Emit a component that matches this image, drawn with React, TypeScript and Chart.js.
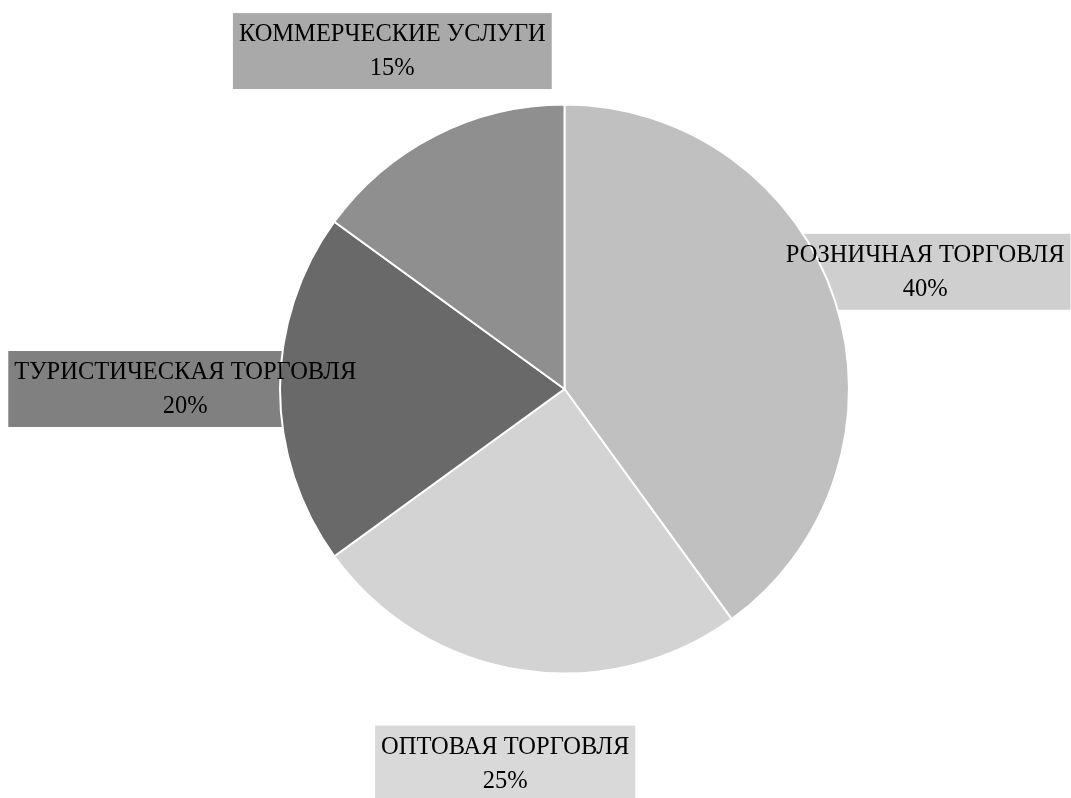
import React, { useEffect, useRef } from "react";
import { Chart, registerables } from "chart.js";

Chart.register(...registerables);

const categories = ["РОЗНИЧНАЯ ТОРГОВЛЯ", "ОПТОВАЯ ТОРГОВЛЯ", "ТУРИСТИЧЕСКАЯ ТОРГОВЛЯ", "КОММЕРЧЕСКИЕ УСЛУГИ"];
const values = [40, 25, 20, 15];
const sliceColors = ["#c0c0c0", "#d3d3d3", "#696969", "#8f8f8f"];
const labelBoxColors = ["#cfcfcf", "#d9d9d9", "#808080", "#a9a9a9"];

const FONT = "24.5px 'Liberation Serif', 'Times New Roman', serif";

function computeBoxes(chart: any) {
  const ctx = chart.ctx as CanvasRenderingContext2D;
  const meta = chart.getDatasetMeta(0);
  const total = values.reduce((a, b) => a + b, 0);
  ctx.save();
  ctx.font = FONT;
  const boxes = meta.data.map((arc: any, i: number) => {
    const p = arc.getProps(["x", "y", "startAngle", "endAngle", "outerRadius"], true);
    const mid = (p.startAngle + p.endAngle) / 2;
    const d = p.outerRadius * 1.333;
    const cx = p.x + Math.cos(mid) * d;
    const cy = p.y + Math.sin(mid) * d;
    const l1 = categories[i];
    const l2 = Math.round((values[i] / total) * 100) + "%";
    const w = Math.max(ctx.measureText(l1).width, ctx.measureText(l2).width) + 12;
    return { cx, cy, w, h: 76, l1, l2, i };
  });
  ctx.restore();
  return boxes;
}

const labelPlugin = {
  id: "boxLabels",
  beforeDatasetsDraw(chart: any) {
    const ctx = chart.ctx as CanvasRenderingContext2D;
    ctx.save();
    computeBoxes(chart).forEach((b: any) => {
      ctx.fillStyle = labelBoxColors[b.i];
      ctx.fillRect(b.cx - b.w / 2, b.cy - b.h / 2, b.w, b.h);
    });
    ctx.restore();
  },
  afterDatasetsDraw(chart: any) {
    const ctx = chart.ctx as CanvasRenderingContext2D;
    ctx.save();
    ctx.font = FONT;
    ctx.fillStyle = "#000";
    ctx.textAlign = "center";
    ctx.textBaseline = "alphabetic";
    computeBoxes(chart).forEach((b: any) => {
      const top = b.cy - b.h / 2;
      ctx.fillText(b.l1, b.cx, top + 28);
      ctx.fillText(b.l2, b.cx, top + 62);
    });
    ctx.restore();
  },
};

export default function App() {
  const ref = useRef<HTMLCanvasElement>(null);
  useEffect(() => {
    document.body.style.margin = "0";
    const chart = new Chart(ref.current!, {
      type: "pie",
      data: {
        labels: categories,
        datasets: [
          {
            data: values,
            backgroundColor: sliceColors,
            borderColor: "#ffffff",
            borderWidth: 2,
          },
        ],
      },
      options: {
        animation: false,
        responsive: false,
        layout: { padding: { top: 103, bottom: 123, left: 279, right: 221 } },
        plugins: { legend: { display: false }, tooltip: { enabled: false } },
      },
      plugins: [labelPlugin],
    });
    return () => chart.destroy();
  }, []);
  return (
    <div style={{ position: "fixed", left: 0, top: 0, width: 1071, height: 798, background: "#fff" }}>
      <canvas ref={ref} width={1071} height={798} style={{ width: 1071, height: 798 }} />
    </div>
  );
}
